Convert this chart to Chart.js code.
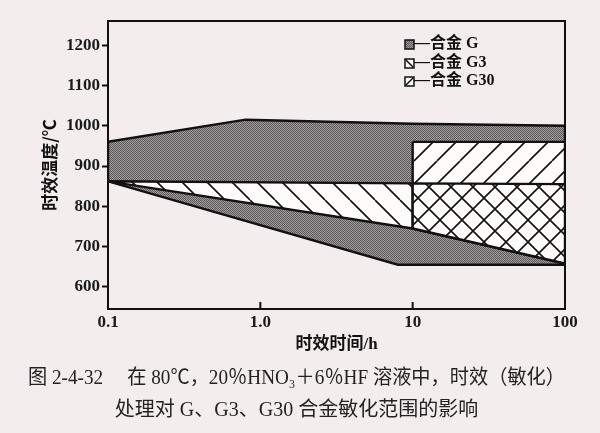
<!DOCTYPE html>
<html>
<head>
<meta charset="utf-8">
<script src="https://cdn.jsdelivr.net/npm/chart.js@4.4.1/dist/chart.umd.min.js"></script>
<style>
  html, body { margin: 0; padding: 0; background: #f3eeed; }
  #wrap { width: 600px; height: 433px; }
</style>
</head>
<body>
<div id="wrap"><canvas id="c"></canvas></div>
<script>
// 合金 G 敏化区（灰色）上下边界
const gTopX = [0.1, 0.8, 10, 100];
const gTopY = [960, 1015, 1005, 1000];
const gBottomX = [0.1, 8, 100];
const gBottomY = [862, 655, 655];
// G3 区上边界、中间分界线
const g3TopX = [0.1, 10, 100];
const g3TopY = [862, 857, 855];
const midX = [0.1, 10, 100];
const midY = [862, 745, 658];
// G30 区 (10~100 h) 上边界
const g30TopX = [10, 100];
const g30TopY = [960, 960];

const xTickValues = [0.1, 1, 10, 100];
const xTickLabels = ["0.1", "1.0", "10", "100"];
const yTickValues = [600, 700, 800, 900, 1000, 1100, 1200];

const legendLabels = ["—合金 G", "—合金 G3", "—合金 G30"];
const captionLines = [
  "图 2-4-32　 在 80℃，20％HNO₃＋6％HF 溶液中，时效（敏化）",
  "处理对 G、G3、G30 合金敏化范围的影响",
];

// 把 x/y 数组变成点
function pts(xs, ys) {
  return xs.map((x, i) => ({ x: x, y: ys[i] }));
}
// 上边界 + 反向下边界 => 封闭多边形
function poly(upper, lower) {
  const p = upper.concat(lower.slice().reverse());
  p.push(p[0]);
  return p;
}

// 填充图案
function makePattern(size, draw) {
  const c = document.createElement("canvas");
  c.width = size;
  c.height = size;
  draw(c.getContext("2d"), size);
  return c.getContext("2d").createPattern(c, "repeat");
}
const greyPattern = makePattern(2, (g) => {
  g.fillStyle = "#a29d9f";
  g.fillRect(0, 0, 2, 2);
  g.fillStyle = "#5c575a";
  g.fillRect(0, 0, 1, 1);
  g.fillRect(1, 1, 1, 1);
});
function hatch(size, dirs) {
  return makePattern(size, (g, s) => {
    g.fillStyle = "#fdfcfb";
    g.fillRect(0, 0, s, s);
    g.strokeStyle = "#111";
    g.lineWidth = 1.6;
    g.beginPath();
    for (const d of dirs) {
      for (let k = -1; k <= 1; k++) {
        if (d === "\\") {
          g.moveTo(k * s, 0);
          g.lineTo(k * s + s, s);
        } else {
          g.moveTo(k * s, s);
          g.lineTo(k * s + s, 0);
        }
      }
    }
    g.stroke();
  });
}
const g3Pattern = hatch(25, ["\\"]);
const g30Pattern = hatch(23, ["/"]);
const crossPattern = hatch(22, ["\\", "/"]);

const gPoly = poly(pts(gTopX, gTopY), pts(gBottomX, gBottomY));
const g3Poly = poly(pts(g3TopX, g3TopY), pts(midX, midY));
const g30Poly = poly(pts(g30TopX, g30TopY), pts(midX, midY).filter((p) => p.x >= 10));
const crossPoly = poly(
  pts(g3TopX, g3TopY).filter((p) => p.x >= 10),
  pts(midX, midY).filter((p) => p.x >= 10)
);

function area(label, data, bg, order) {
  return {
    label: label,
    data: data,
    showLine: true,
    fill: "shape",
    backgroundColor: bg,
    borderColor: "#111",
    borderWidth: 2.4,
    pointRadius: 0,
    tension: 0,
    order: order,
  };
}

// 边框、内向刻度、图例
const framePlugin = {
  id: "frame",
  afterDatasetsDraw(chart) {
    const ctx = chart.ctx;
    const { left, right, top, bottom } = chart.chartArea;
    const xs = chart.scales.x;
    ctx.save();
    ctx.strokeStyle = "#111";
    ctx.lineWidth = 2;
    ctx.beginPath();
    ctx.moveTo(left, top);
    ctx.lineTo(right, top);
    ctx.lineTo(right, bottom);
    xTickValues.slice(1, -1).forEach((v) => {
      const px = xs.getPixelForValue(v);
      ctx.moveTo(px, bottom);
      ctx.lineTo(px, bottom - 7);
    });
    ctx.stroke();

    // 图例
    const fills = [greyPattern, "#fdfcfb", "#fdfcfb"];
    const lx = 405;
    const ly = [44, 63, 81];
    ctx.font = 'bold 16px "Liberation Serif", "Noto Sans CJK SC"';
    ctx.textBaseline = "middle";
    legendLabels.forEach((t, i) => {
      const y = ly[i];
      ctx.fillStyle = fills[i];
      ctx.fillRect(lx, y - 4, 9, 9);
      ctx.lineWidth = 1.5;
      ctx.beginPath();
      if (i === 1) {
        ctx.moveTo(lx + 1, y - 3);
        ctx.lineTo(lx + 8, y + 4);
      } else if (i === 2) {
        ctx.moveTo(lx + 1, y + 4);
        ctx.lineTo(lx + 8, y - 3);
      }
      ctx.stroke();
      ctx.strokeRect(lx, y - 4, 9, 9);
      ctx.fillStyle = "#111";
      ctx.fillText(t, lx + 9, y);
    });
    ctx.restore();
  },
};

new Chart(document.getElementById("c"), {
  type: "scatter",
  data: {
    datasets: [
      area("合金 G", gPoly, greyPattern, 4),
      area("合金 G3", g3Poly, g3Pattern, 3),
      area("合金 G30", g30Poly, g30Pattern, 2),
      area("G3+G30", crossPoly, crossPattern, 1),
    ],
  },
  options: {
    responsive: true,
    maintainAspectRatio: false,
    animation: false,
    events: [],
    layout: { padding: { top: 21, right: 35, left: 28, bottom: 0 } },
    plugins: {
      legend: { display: false },
      tooltip: { enabled: false },
      title: {
        display: true,
        position: "bottom",
        text: captionLines,
        color: "#222",
        font: {
          family: '"Liberation Serif", "Noto Sans CJK SC"',
          size: 20,
          weight: "normal",
          lineHeight: 1.6,
        },
        padding: { top: 4, bottom: 6 },
      },
    },
    scales: {
      x: {
        type: "logarithmic",
        min: 0.1,
        max: 100,
        afterBuildTicks: (s) => {
          s.ticks = xTickValues.map((v) => ({ value: v }));
        },
        afterFit: (s) => {
          s.height = 50;
        },
        ticks: {
          autoSkip: false,
          maxRotation: 0,
          padding: 3,
          color: "#1a1a1a",
          font: { family: '"Liberation Serif", serif', size: 17, weight: "bold" },
          callback: (v, i) => xTickLabels[i],
        },
        grid: { drawOnChartArea: false, drawTicks: false },
        border: { color: "#111", width: 2 },
        title: {
          display: true,
          text: "时效时间/h",
          color: "#111",
          font: { family: '"Liberation Serif", "Noto Sans CJK SC"', size: 17, weight: "bold" },
          padding: { top: 0, bottom: 4 },
        },
      },
      y: {
        min: 545,
        max: 1260,
        afterBuildTicks: (s) => {
          s.ticks = yTickValues.map((v) => ({ value: v }));
        },
        afterFit: (s) => {
          s.width = 80;
        },
        ticks: {
          padding: 2,
          color: "#1a1a1a",
          font: { family: '"Liberation Serif", serif', size: 17, weight: "bold" },
          callback: (v) => String(v),
        },
        grid: { drawOnChartArea: false, tickLength: 6, color: "#111", tickWidth: 2 },
        border: { color: "#111", width: 2 },
        title: {
          display: true,
          text: "时效温度/℃",
          color: "#111",
          font: { family: '"Noto Sans CJK SC"', size: 17, weight: "bold" },
          padding: { top: 11, bottom: 0 },
        },
      },
    },
  },
  plugins: [framePlugin],
});
</script>
</body>
</html>
